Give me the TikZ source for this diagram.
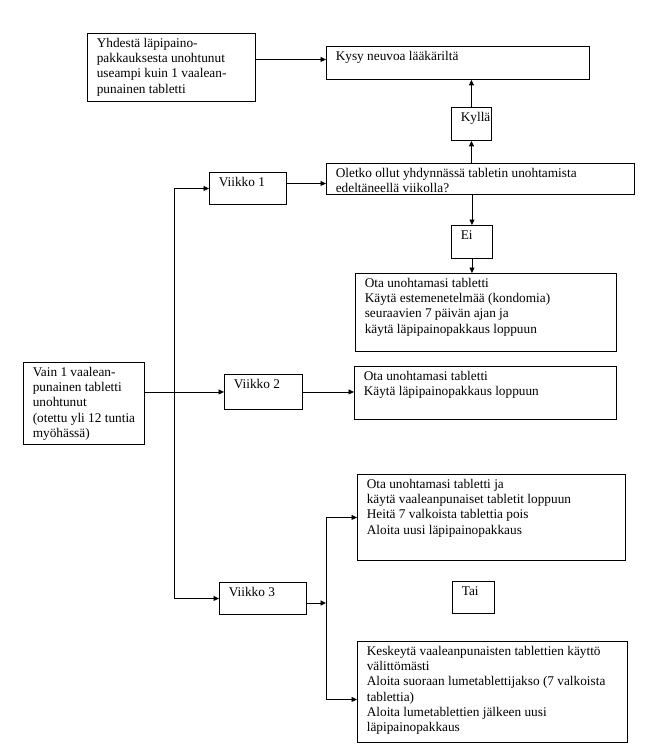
\documentclass[tikz,border=0pt]{standalone}
\usepackage{fontspec}
\setmainfont{Liberation Serif}
\usetikzlibrary{arrows.meta,calc}
\tikzset{
  box/.style={draw,line width=0.9pt,inner sep=0pt,anchor=north west},
  txt/.style={inner sep=0pt,anchor=north west,align=left,font=\fontsize{13.3}{15.3}\selectfont},
  arr/.style={line width=0.9pt,-{Triangle[length=5.5pt,width=5pt]}},
  ln/.style={line width=0.9pt}
}
\newcommand\bx[6]{%
  \node[box,minimum width={(#4-#2)*1pt},minimum height={(#5-#3)*1pt}] (#1) at (#2,#3) {};
  \node[txt] (#1t) at ([xshift=9.6pt,yshift=-2pt]#1.north west) {\rule{0pt}{12pt}#6};
}
\begin{document}
\begin{tikzpicture}[x=1pt,y=-1pt]
\useasboundingbox (0,0) rectangle (646,755);
\bx{A}{87}{33}{255}{101}{Yhdestä läpipaino-\\pakkauksesta unohtunut\\useampi kuin 1 vaalean-\\punainen tabletti}
\bx{B}{326}{46}{589}{79}{Kysy neuvoa lääkäriltä}
\bx{Ky}{451}{107}{491}{140}{Kyllä}
\bx{V1}{209}{172}{286}{204}{Viikko 1}
\bx{Ol}{326}{163}{634}{194}{Oletko ollut yhdynnässä tabletin unohtamista\\edeltäneellä viikolla?}
\bx{Ei}{451}{225}{492}{258}{Ei}
\bx{O1}{355}{273}{616}{351}{Ota unohtamasi tabletti\\Käytä estemenetelmää (kondomia)\\seuraavien 7 päivän ajan ja\\käytä läpipainopakkaus loppuun}
\bx{Va}{23}{362}{144}{444}{Vain 1 vaalean-\\punainen tabletti\\unohtunut\\(otettu yli 12 tuntia\\myöhässä)}
\bx{V2}{224}{374}{302}{409}{Viikko 2}
\bx{O2}{354}{366}{616}{419}{Ota unohtamasi tabletti\\Käytä läpipainopakkaus loppuun}
\bx{O3}{357}{474}{625}{560}{Ota unohtamasi tabletti ja\\käytä vaaleanpunaiset tabletit loppuun\\Heitä 7 valkoista tablettia pois\\Aloita uusi läpipainopakkaus}
\bx{V3}{219}{582}{306}{614}{Viikko 3}
\bx{Tai}{452}{581}{494}{613}{Tai}
\bx{O4}{357}{641}{627}{742}{Keskeytä vaaleanpunaisten tablettien käyttö\\välittömästi\\Aloita suoraan lumetablettijakso (7 valkoista\\tablettia)\\Aloita lumetablettien jälkeen uusi\\läpipainopakkaus}

\coordinate (tx) at (174,392);
\coordinate (j3) at (326,603);

\draw[arr] ([yshift=3.5pt]B.west -| A.east) -- ([yshift=3.5pt]B.west);
\draw[arr] (Ky.north) -- (Ky.north |- B.south);
\draw[arr] (Ky.south |- Ol.north) -- (Ky.south);
\draw[arr] ([yshift=5pt]V1.east) -- ([yshift=5pt]V1.east -| Ol.west);
\draw[arr] (Ei.north |- Ol.south) -- (Ei.north);
\draw[arr] (Ei.south) -- (Ei.south |- O1.north);
\draw[arr] (V2.west -| Va.east) -- (V2.west);
\draw[arr] (V2.east) -- (V2.east -| O2.west);
\draw[arr] (tx) |- (V1.west);
\draw[arr] (tx) |- (V3.west);
\draw[arr] (j3 -| V3.east) -- (j3);
\draw[arr] (j3) |- (O3.west);
\draw[arr] (j3) |- ([yshift=-7.5pt]O4.west);
\end{tikzpicture}
\end{document}
